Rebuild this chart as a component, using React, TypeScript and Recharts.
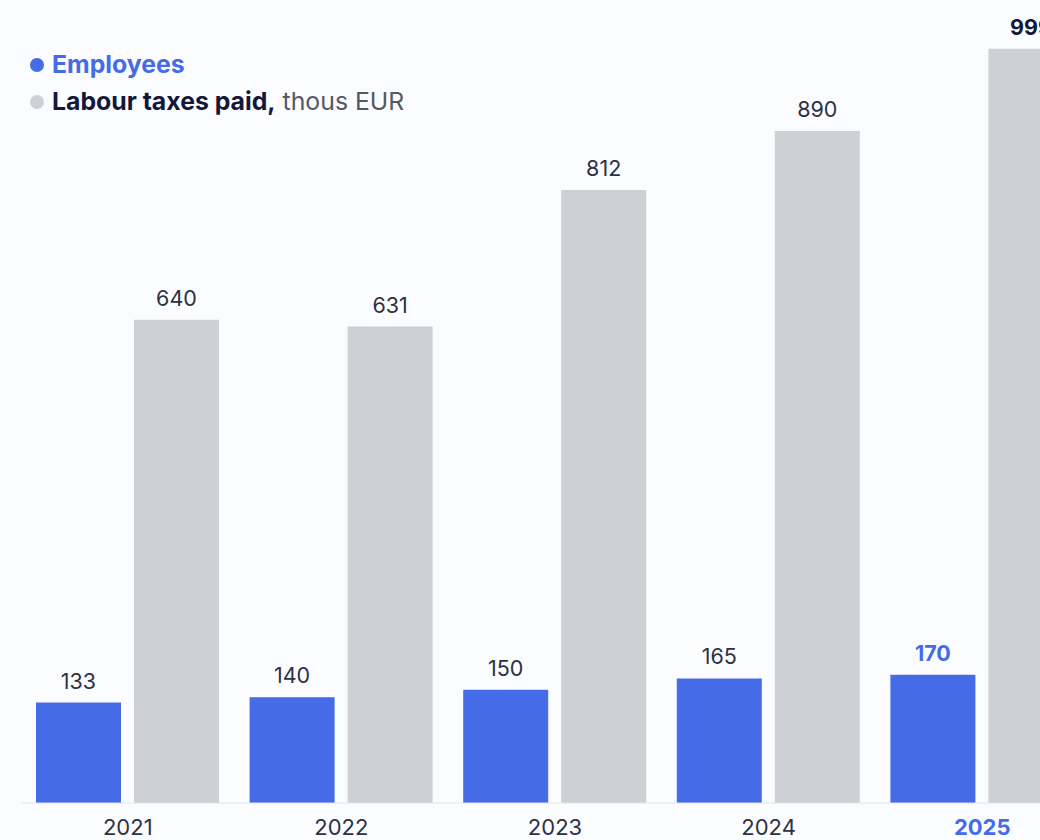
import { BarChart, Bar, XAxis, YAxis, LabelList } from 'recharts';

const years = ['2021', '2022', '2023', '2024', '2025'];
const employees = [133, 140, 150, 165, 170];
const labourTaxes = [640, 631, 812, 890, 999];

const data = years.map((year, i) => ({
  year,
  employees: employees[i],
  labourTaxes: labourTaxes[i],
}));

const BLUE = '#456BE6';
const GREY = '#CFD0D5';
const TEXT = '#2E3142';
const NAVY = '#13183A';
const FONT = 'Inter, "Noto Sans", sans-serif';
const last = years.length - 1;

function YearTick(props: any) {
  const { x, y, payload, index } = props;
  const isLast = index === last;
  return (
    <text
      x={x}
      y={y + 24}
      textAnchor="middle"
      fontFamily={FONT}
      fontSize={22}
      fontWeight={isLast ? 700 : 400}
      fill={isLast ? BLUE : TEXT}
    >
      {payload.value}
    </text>
  );
}

function makeValueLabel(highlight: string) {
  return (props: any) => {
    const { x, y, width, value, index } = props;
    const isLast = index === last;
    return (
      <text
        x={x + width / 2}
        y={y - 14}
        textAnchor="middle"
        fontFamily={FONT}
        fontSize={21.5}
        fontWeight={isLast ? 700 : 400}
        fill={isLast ? highlight : TEXT}
      >
        {value}
      </text>
    );
  };
}

function LegendBox() {
  const dot = (color: string) => (
    <span style={{ width: 14, height: 14, borderRadius: 7, background: color, marginRight: 8, flex: 'none' }} />
  );
  return (
    <div
      style={{
        position: 'absolute',
        left: 30,
        top: 46,
        fontFamily: FONT,
        fontSize: 24.8,
        lineHeight: '37px',
        whiteSpace: 'nowrap',
      }}
    >
      <div style={{ display: 'flex', alignItems: 'center' }}>
        {dot(BLUE)}
        <span style={{ color: BLUE, fontWeight: 700 }}>Employees</span>
      </div>
      <div style={{ display: 'flex', alignItems: 'center' }}>
        {dot(GREY)}
        <span style={{ color: NAVY, fontWeight: 700 }}>Labour taxes paid,</span>
        <span style={{ color: '#555866', marginLeft: 7 }}>thous EUR</span>
      </div>
    </div>
  );
}

export default function App() {
  return (
    <div
      style={{
        position: 'absolute',
        left: 0,
        top: 0,
        width: 1040,
        height: 840,
        overflow: 'hidden',
        background: '#FBFCFF',
      }}
    >
      <BarChart
        width={1089}
        height={840}
        data={data}
        margin={{ top: 48, right: 0, bottom: 0, left: 21 }}
        barSize={85}
        barGap={13}
      >
        <XAxis
          dataKey="year"
          height={37}
          axisLine={{ stroke: '#E2E4EA' }}
          tickLine={false}
          tick={<YearTick />}
          interval={0}
        />
        <YAxis hide domain={[0, 1000]} />
        <Bar dataKey="employees" fill={BLUE} isAnimationActive={false}>
          <LabelList dataKey="employees" content={makeValueLabel(BLUE)} />
        </Bar>
        <Bar dataKey="labourTaxes" fill={GREY} isAnimationActive={false}>
          <LabelList dataKey="labourTaxes" content={makeValueLabel(NAVY)} />
        </Bar>
      </BarChart>
      <LegendBox />
    </div>
  );
}
